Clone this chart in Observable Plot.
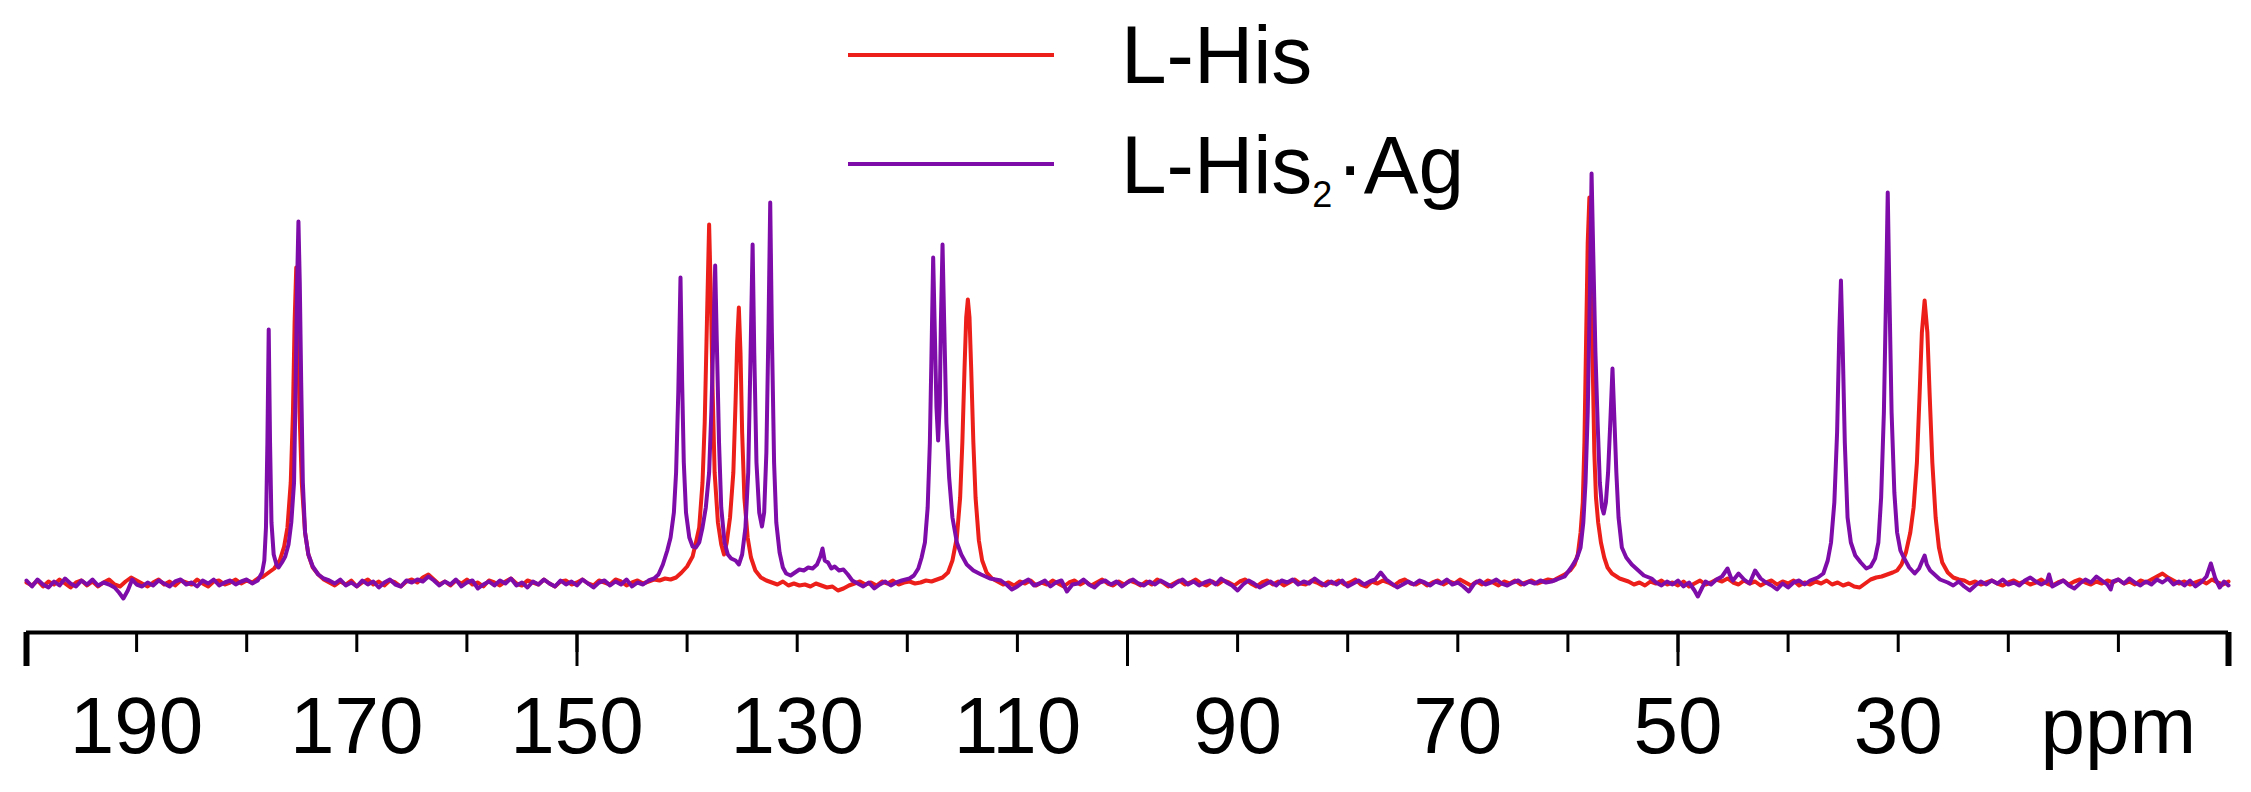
<!DOCTYPE html>
<html><head><meta charset="utf-8">
<script src="https://cdn.jsdelivr.net/npm/d3@7"></script>
<script src="https://cdn.jsdelivr.net/npm/@observablehq/plot@0.6"></script>
<style>
html,body{margin:0;padding:0;background:#fff;}
#wrap{position:relative;width:2251px;height:792px;font-family:Arial,"Liberation Sans",sans-serif;overflow:hidden;}
#chart svg{display:block;}
.leg-line{position:absolute;height:4px;}
.leg-text{position:absolute;font-size:82px;line-height:82px;color:#000;white-space:nowrap;}
.leg-text sub{font-size:36px;line-height:0;vertical-align:-14px;margin-right:4px;}
</style></head><body>
<div id="wrap"><div id="chart"></div><div id="legend"></div></div>
<script>
// ---- data (ppm, intensity in px above baseline) ----
const seriesNames = ["L-His", "L-His<sub>2</sub>\u00B7Ag"];
const seriesColors = ["#ec1f1a", "#7d0ca8"];

const lHis = [
[200,0],[199.5,-3],[199,2],[198.5,-4],[198,1],[197.5,-2],[197,3],[196.5,-1],[196,-5],[195.5,0],[195,2],[194.5,-3],[194,1],[193.5,-4],[193,0],[192.5,3],[192,-2],[191.5,-4],[191,1],[190.5,5],[190,2],[189.5,-1],[189,-4],[188.5,0],[188,3],[187.5,-2],[187,1],[186.5,-3],[186,2],[185.5,0],[185,-2],[184.5,3],[184,-1],[183.5,-4],[183,1],[182.5,2],[182,-2],[181.5,0],[181,3],[180.5,-1],[180,2],[179.5,0],[179,4],
[178.5,6],[178,10],[177.5,14],[177,22],[176.6,36],[176.3,55],[176,100],[175.8,170],[175.65,260],[175.5,315],[175.35,260],[175.2,170],[175,100],[174.7,50],[174.4,28],[174,15],[173.5,8],[173,3],
[172.5,0],[172,-3],[171.5,1],[171,-2],[170.5,2],[170,-4],[169.5,0],[169,3],[168.5,-2],[168,1],[167.5,-3],[167,2],[166.5,0],[166,-4],[165.5,1],[165,3],[164.5,0],[164,5],[163.5,8],[163,3],[162.5,-2],[162,1],[161.5,-3],[161,2],[160.5,-1],[160,3],[159.5,-2],[159,0],[158.5,-4],[158,2],[157.5,0],[157,-3],[156.5,1],[156,4],[155.5,-1],[155,-3],[154.5,2],[154,0],[153.5,-2],[153,3],[152.5,-1],[152,-4],[151.5,1],[151,2],[150.5,-2],[150,0],[149.5,3],[149,-1],[148.5,-3],[148,2],[147.5,0],[147,-2],[146.5,3],[146,1],[145.5,-3],[145,0],[144.5,2],[144,-1],[143.5,1],[143,3],[142.5,2],[142,4],[141.5,3],
[141,5],[140.5,10],[140,16],[139.5,26],[139.2,40],[138.9,55],[138.6,100],[138.4,160],[138.2,260],[138,358],[137.85,290],[137.7,200],[137.5,110],[137.2,60],[136.9,38],[136.65,28],[136.4,40],[136.1,65],[135.8,110],[135.6,180],[135.45,240],[135.3,275],[135.15,230],[135,150],[134.8,85],[134.5,45],[134.2,25],[133.8,12],[133.3,5],[132.8,2],
[132.3,0],[131.8,-2],[131.3,1],[130.8,-3],[130.3,-1],[129.8,-3],[129.3,-2],[128.8,-4],[128.3,-1],[127.8,-3],[127.3,-5],[126.8,-4],[126.3,-8],[125.8,-6],[125.3,-3],[124.8,-1],[124.3,1],[123.8,-2],[123.3,0],[122.8,-3],[122.3,1],[121.8,-1],[121.3,2],[120.8,-2],[120.3,0],[119.8,1],[119.3,-1],[118.8,0],[118.3,2],[117.8,1],[117.3,3],
[116.8,5],[116.3,10],[115.9,22],[115.5,45],[115.2,85],[115,140],[114.8,215],[114.65,265],[114.5,283],[114.35,265],[114.2,215],[114,140],[113.8,85],[113.5,42],[113.2,22],[112.8,10],[112.3,4],
[111.8,1],[111.3,-2],[110.8,0],[110.3,-3],[109.8,1],[109.3,-1],[108.8,2],[108.3,-3],[107.8,0],[107.3,-2],[106.8,2],[106.3,-1],[105.8,-4],[105.3,0],[104.8,2],[104.3,-2],[103.8,1],[103.3,-3],[102.8,0],[102.3,3],[101.8,-1],[101.3,-3],[100.8,1],[100.3,-2],[99.8,2],[99.3,0],[98.8,-3],[98.3,1],[97.8,-2],[97.3,3],[96.8,0],[96.3,-4],[95.8,-1],[95.3,2],[94.8,-2],[94.3,0],[93.8,3],[93.3,-1],[92.8,-3],[92.3,1],[91.8,-2],[91.3,2],[90.8,0],[90.3,-3],[89.8,1],[89.3,3],[88.8,-1],[88.3,-4],[87.8,0],[87.3,2],[86.8,-2],[86.3,1],[85.8,-3],[85.3,0],[84.8,3],[84.3,-1],[83.8,-2],[83.3,2],[82.8,0],[82.3,-3],[81.8,1],[81.3,-1],[80.8,2],[80.3,-2],[79.8,0],[79.3,3],[78.8,-2],[78.3,-4],[77.8,1],[77.3,-1],[76.8,2],[76.3,0],[75.8,-3],[75.3,1],[74.8,3],[74.3,-1],[73.8,-2],[73.3,1],[72.8,-3],[72.3,0],[71.8,2],[71.3,-2],[70.8,1],[70.3,-1],[69.8,3],[69.3,0],[68.8,-3],[68.3,1],[67.8,-2],[67.3,2],[66.8,0],[66.3,-3],[65.8,1],[65.3,-1],[64.8,2],[64.3,-2],[63.8,0],[63.3,2],[62.8,-1],[62.3,1],[61.8,3],[61.3,2],
[61,4],[60.3,8],[59.8,12],[59.4,18],[59.1,28],[58.85,50],[58.65,80],[58.5,140],[58.35,240],[58.2,340],[58.05,385],[57.9,330],[57.75,220],[57.6,130],[57.45,85],[57.25,60],[57,40],[56.7,25],[56.4,15],[56,9],[55.3,4],[54.5,1],
[54,-2],[53.5,0],[53,-3],[52.5,1],[52,-1],[51.5,2],[51,-2],[50.5,0],[50,-3],[49.5,1],[49,-4],[48.5,-1],[48,2],[47.5,-2],[47,0],[46.5,3],[46,1],[45.5,4],[45,0],[44.5,-2],[44,2],[43.5,-1],[43,1],[42.5,-3],[42,0],[41.5,2],[41,-2],[40.5,1],[40,-1],[39.5,2],[39,-3],[38.5,0],[38,-2],[37.5,1],[37,-1],[36.5,2],[36,-2],[35.5,0],[35,-3],[34.5,-1],[34,-4],[33.5,-5],[33,-1],
[32.5,3],[32,5],[31.5,6],[31,8],[30.5,10],[30.1,12],[29.7,18],[29.3,30],[28.9,50],[28.6,75],[28.3,120],[28.05,190],[27.85,250],[27.6,282],[27.35,250],[27.15,190],[26.9,120],[26.6,65],[26.3,35],[26,20],[25.5,10],[25,5],[24.5,3],
[24,2],[23.5,-1],[23,1],[22.5,-2],[22,0],[21.5,2],[21,-1],[20.5,-3],[20,0],[19.5,2],[19,-1],[18.5,1],[18,-2],[17.5,0],[17,3],[16.5,-1],[16,-3],[15.5,0],[15,2],[14.5,-2],[14,1],[13.5,3],[13,0],[12.5,-2],[12,1],[11.5,-1],[11,2],[10.5,0],[10,3],[9.5,-1],[9,1],[8.5,-2],[8,2],[7.5,0],[7,3],[6.5,6],[6,9],[5.5,5],[5,2],[4.5,-1],[4,1],[3.5,-2],[3,0],[2.5,2],[2,-1],[1.5,3],[1,0],[0.5,-2],[0,1]
];

const lHisAg = [
[200,2],[199.5,-4],[199,3],[198.5,-2],[198,-5],[197.5,1],[197,-3],[196.5,4],[196,-1],[195.5,-4],[195,2],[194.5,-2],[194,3],[193.5,-3],[193,0],[192.5,-2],[192,-5],[191.6,-10],[191.2,-16],[190.8,-8],[190.4,3],[190,-2],[189.5,-4],[189,0],[188.5,-3],[188,2],[187.5,-1],[187,-4],[186.5,1],[186,3],[185.5,-2],[185,0],[184.5,-4],[184,2],[183.5,-1],[183,3],[182.5,-3],[182,0],[181.5,2],[181,-2],[180.5,1],[180,3],[179.5,-1],[179,2],
[178.9,4],[178.6,10],[178.4,22],[178.25,55],[178.12,140],[178,253],[177.88,140],[177.75,60],[177.55,28],[177.3,18],[177.1,15],[176.8,20],[176.5,26],[176.2,38],[175.95,60],[175.7,100],[175.55,200],[175.42,300],[175.3,361],[175.18,300],[175.05,200],[174.9,100],[174.7,50],[174.4,28],[174,16],[173.5,8],[173,4],[172.5,2],
[172,-1],[171.5,3],[171,-3],[170.5,0],[170,-4],[169.5,2],[169,-2],[168.5,1],[168,-5],[167.5,0],[167,3],[166.5,-2],[166,-4],[165.5,2],[165,0],[164.5,3],[164,1],[163.5,6],[163,2],[162.5,-3],[162,1],[161.5,-2],[161,3],[160.5,-4],[160,0],[159.5,2],[159,-6],[158.5,-2],[158,1],[157.5,-3],[157,2],[156.5,-1],[156,4],[155.5,-3],[155,0],[154.5,-5],[154,1],[153.5,-2],[153,3],[152.5,-1],[152,-4],[151.5,2],[151,-2],[150.5,1],[150,-3],[149.5,3],[149,-1],[148.5,-5],[148,0],[147.5,2],[147,-3],[146.5,1],[146,-2],[145.5,3],[145,-4],[144.5,0],[144,-2],
[143.5,2],[143,4],[142.6,8],[142.2,18],[141.8,32],[141.5,45],[141.2,70],[141,110],[140.8,190],[140.6,305],[140.45,200],[140.3,120],[140.1,70],[139.8,45],[139.5,36],[139.2,35],[138.9,40],[138.6,55],[138.3,75],[138,110],[137.8,170],[137.6,250],[137.45,317],[137.3,240],[137.1,140],[136.9,75],[136.6,40],[136.3,28],[136,24],[135.6,22],[135.3,18],[135,28],[134.7,55],[134.45,110],[134.25,220],[134.05,338],[133.9,230],[133.7,120],[133.45,70],[133.2,56],[133,70],[132.8,130],[132.6,260],[132.45,380],[132.3,250],[132.1,120],[131.9,60],[131.6,30],[131.3,15],[131,9],[130.6,7],[130.2,10],[129.8,13],[129.4,12],[129,15],[128.6,14],[128.2,18],[127.9,26],[127.7,34],[127.5,22],[127.2,20],[126.9,14],[126.6,16],[126.2,12],[125.8,13],[125.4,8],[125,2],
[124.5,-1],[124,-4],[123.5,0],[123,-6],[122.5,-2],[122,1],[121.5,-3],[121,0],
[120.5,2],[119.8,4],[119.4,7],[119,14],[118.7,25],[118.4,40],[118.15,75],[117.95,140],[117.8,230],[117.65,325],[117.5,250],[117.35,175],[117.2,142],[117.05,180],[116.95,260],[116.8,338],[116.65,260],[116.45,160],[116.2,105],[115.9,65],[115.5,40],[115.1,28],[114.6,18],[114,12],[113.3,8],[112.5,4],[111.5,2],
[111,-2],[110.5,-7],[110,-4],[109.5,0],[109,3],[108.5,-3],[108,-1],[107.5,2],[107,-4],[106.5,0],[106,2],[105.5,-9],[105,-2],[104.5,-1],[104,3],[103.5,-2],[103,-5],[102.5,0],[102,2],[101.5,-2],[101,1],[100.5,-4],[100,0],[99.5,3],[99,-1],[98.5,-3],[98,1],[97.5,-2],[97,2],[96.5,-1],[96,-4],[95.5,0],[95,3],[94.5,-2],[94,1],[93.5,-3],[93,0],[92.5,2],[92,-2],[91.5,4],[91,0],[90.5,-3],[90,-8],[89.5,-2],[89,2],[88.5,-1],[88,-5],[87.5,-2],[87,1],[86.5,-3],[86,2],[85.5,0],[85,3],[84.5,-2],[84,1],[83.5,-1],[83,4],[82.5,0],[82,-3],[81.5,1],[81,-2],[80.5,2],[80,-4],[79.5,-1],[79,2],[78.5,-2],[78,1],[77.5,3],[77,10],[76.5,3],[76,-1],[75.5,-5],[75,-2],[74.5,1],[74,-2],[73.5,2],[73,0],[72.5,-3],[72,1],[71.5,-1],[71,3],[70.5,-2],[70,0],[69.5,-4],[69,-9],[68.5,-1],[68,2],[67.5,-2],[67,0],[66.5,3],[66,-1],[65.5,-3],[65,0],[64.5,2],[64,-2],[63.5,1],[63,-1],[62.5,2],[62,0],[61.5,1],
[61,3],[60.3,6],[59.7,15],[59.2,24],[58.85,35],[58.6,60],[58.4,100],[58.2,170],[58,290],[57.85,409],[57.7,330],[57.5,230],[57.3,160],[57.1,100],[56.9,75],[56.75,69],[56.55,80],[56.35,110],[56.15,160],[55.95,214],[55.8,170],[55.6,110],[55.4,65],[55.1,35],[54.7,25],[54.2,18],[53.6,12],[53.1,7],[52.4,4],
[52,0],[51.5,-3],[51,1],[50.5,-2],[50,2],[49.5,-4],[49,0],[48.5,-8],[48.2,-14],[47.8,-5],[47.5,1],[47,-2],[46.5,3],[46,6],[45.5,14],[45.2,5],[45,2],[44.5,9],[44,3],[43.5,-1],[43,12],[42.5,4],[42,0],[41.5,-3],[41,-7],[40.5,-1],[40,-5],[39.5,0],[39,2],[38.5,-2],
[38,2],[37.3,5],[36.8,9],[36.4,22],[36.1,40],[35.8,80],[35.55,150],[35.35,250],[35.2,302],[35.05,240],[34.85,140],[34.6,65],[34.3,40],[33.9,27],[33.4,20],[32.9,14],[32.5,16],[32.1,24],[31.8,40],[31.55,85],[31.3,170],[31.1,290],[30.95,390],[30.8,290],[30.6,170],[30.35,90],[30.1,50],[29.8,32],[29.5,25],[29,15],[28.5,9],[28.1,14],[27.8,22],[27.6,27],[27.4,18],[27.1,12],[26.7,8],[26.2,3],[25.5,0],
[25,-3],[24.5,1],[24,-4],[23.5,-8],[23,-3],[22.5,1],[22,-2],[21.5,2],[21,-1],[20.5,3],[20,-2],[19.5,0],[19,-3],[18.5,2],[18,5],[17.5,1],[17,-2],[16.5,1],[16.3,8],[16,-4],[15.5,-1],[15,2],[14.5,-3],[14,-6],[13.5,-1],[13,3],[12.5,0],[12,6],[11.5,2],[11,-2],[10.7,-7],[10.5,1],[10,3],[9.5,-1],[9,4],[8.5,0],[8,-3],[7.5,1],[7,-2],[6.5,3],[6,0],[5.5,4],[5,-2],[4.5,1],[4,-3],[3.5,2],[3,-4],[2.5,0],[2,6],[1.6,19],[1.2,4],[0.8,-5],[0.4,1],[0,-3]
];

const xDomain = [200, 0];
const yDomain = [-50, 582];
const minorTicks = [200,190,180,170,160,150,140,130,120,110,100,90,80,70,60,50,40,30,20,10,0];
const majorTicks = [150,100,50];
const endTicks = [200,0];
const labelTicks = [190,170,150,130,110,90,70,50,30,10];
const unitLabel = "ppm";

// ---- chart ----
const chart = Plot.plot({
  width: 2251, height: 792,
  marginLeft: 26, marginRight: 23, marginTop: 0, marginBottom: 160,
  style: {fontFamily: "Arial, 'Liberation Sans', sans-serif", fontSize: "80px", color: "#000", background: "transparent", overflow: "visible"},
  x: {domain: xDomain, axis: null},
  y: {domain: yDomain, axis: null},
  marks: [
    Plot.line(lHis, {x: d => d[0], y: d => d[1], stroke: seriesColors[0], strokeWidth: 4, strokeLinejoin: "round"}),
    Plot.line(lHisAg, {x: d => d[0], y: d => d[1], stroke: seriesColors[1], strokeWidth: 4, strokeLinejoin: "round"}),
    Plot.ruleY([yDomain[0]], {stroke: "#000", strokeWidth: 4}),
    Plot.axisX(minorTicks, {tickSize: 20, strokeWidth: 3, stroke: "#000", tickFormat: () => "", label: null}),
    Plot.axisX(majorTicks, {tickSize: 34, strokeWidth: 3, stroke: "#000", tickFormat: () => "", label: null}),
    Plot.axisX(endTicks, {tickSize: 34, strokeWidth: 6, stroke: "#000", tickFormat: () => "", label: null}),
    Plot.axisX(labelTicks, {tickSize: 0, tickPadding: 64, fontSize: 80, fill: "#000",
      tickFormat: d => d === 10 ? unitLabel : String(d), label: null})
  ]
});
document.getElementById("chart").appendChild(chart);

// ---- legend (HTML overlay) ----
const legend = document.getElementById("legend");
const legendLayout = [{lineTop: 53, textTop: 14}, {lineTop: 162, textTop: 124}];
seriesNames.forEach((name, i) => {
  const ln = document.createElement("div");
  ln.className = "leg-line";
  ln.style.left = "848px"; ln.style.width = "206px";
  ln.style.top = legendLayout[i].lineTop + "px";
  ln.style.background = seriesColors[i];
  legend.appendChild(ln);
  const tx = document.createElement("div");
  tx.className = "leg-text";
  tx.style.left = "1121px";
  tx.style.top = legendLayout[i].textTop + "px";
  tx.innerHTML = name;
  legend.appendChild(tx);
});
</script>
</body></html>
